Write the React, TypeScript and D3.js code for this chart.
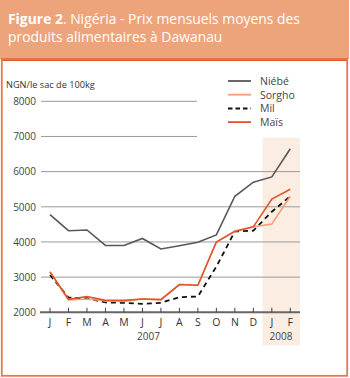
import React from "react";
import * as d3 from "d3";

const months = ["J", "F", "M", "A", "M", "J", "J", "A", "S", "O", "N", "D", "J", "F"];
const yearLabels = [
  { label: "2007", from: 0, to: 11 },
  { label: "2008", from: 12, to: 13 },
];
const yTicks = [2000, 3000, 4000, 5000, 6000, 7000, 8000];

const niebe = [4780, 4320, 4340, 3900, 3900, 4100, 3800, 3890, 3990, 4200, 5300, 5700, 5850, 6650];
const sorgho = [3150, 2350, 2380, 2320, 2310, 2380, 2360, 2790, 2770, 4000, 4310, 4430, 4510, 5300];
const mil = [3060, 2420, 2400, 2280, 2270, 2240, 2270, 2430, 2450, 3300, 4300, 4320, 4860, 5300];
const mais = [3150, 2370, 2450, 2340, 2340, 2380, 2360, 2790, 2770, 4000, 4300, 4430, 5220, 5500];

const series = [
  { name: "Niébé", values: niebe, color: "#58585a", dash: "", width: 1.6 },
  { name: "Sorgho", values: sorgho, color: "#f3a07a", dash: "", width: 1.6 },
  { name: "Mil", values: mil, color: "#111111", dash: "5,4", width: 1.8 },
  { name: "Maïs", values: mais, color: "#e0552b", dash: "", width: 1.6 },
];
const drawOrder = ["Niébé", "Mil", "Sorgho", "Maïs"];

export default function App() {
  const W = 350, H = 378;
  const x = d3.scaleLinear().domain([0, 13]).range([50, 290.3]);
  const y = d3.scaleLinear().domain([2000, 8000]).range([312.3, 101.3]);
  const line = d3.line<number>().x((_, i) => x(i)).y((d) => y(d));
  const font = "'Open Sans', 'Noto Sans', sans-serif";

  return (
    <svg width={W} height={H} style={{ position: "absolute", left: 0, top: 0 }} fontFamily={font}>
      <rect x={0} y={0} width={W} height={H} fill="#ffffff" />
      {/* header */}
      <rect x={0} y={0} width={349} height={59} fill="#eda47b" />
      <rect x={1} y={58} width={347} height={3} fill="#e05c2c" />
      {/* panel border */}
      <rect x={1.8} y={59} width={345.4} height={316.8} fill="none" stroke="#e8774c" strokeWidth={1.8} />
      <text x={8} y={24} fill="#ffffff" fontSize={13.9}>
        <tspan fontWeight="bold">Figure 2</tspan>. Nigéria - Prix mensuels moyens des
      </text>
      <text x={8} y={42} fill="#ffffff" fontSize={13.9}>produits alimentaires à Dawanau</text>

      {/* shaded 2008 */}
      <rect x={x(11.5)} y={137.7} width={300 - x(11.5)} height={345.7 - 137.7} fill="#fcede3" />

      {/* gridlines */}
      {yTicks.slice(1).map((t) => (
        <line key={t} x1={41} x2={t >= 7000 ? 197 : 300} y1={y(t)} y2={y(t)} stroke="#9a9a9a" strokeWidth={1} />
      ))}
      {/* y tick labels */}
      {yTicks.map((t) => (
        <text key={t} x={36} y={y(t) + 3.8} textAnchor="end" fontSize={10} fill="#444">{t}</text>
      ))}
      <text x={6} y={88} fontSize={9.2} fill="#333">NGN/le sac de 100kg</text>

      {/* x axis */}
      <line x1={40} x2={300} y1={y(2000)} y2={y(2000)} stroke="#666" strokeWidth={2} />
      {months.map((m, i) => (
        <g key={i}>
          <line x1={x(i)} x2={x(i)} y1={y(2000) - 4.5} y2={y(2000)} stroke="#444" strokeWidth={1} />
          <text x={x(i)} y={326} textAnchor="middle" fontSize={10.5} fill="#333">{m}</text>
        </g>
      ))}
      {yearLabels.map((yl) => (
        <text key={yl.label} x={yl.label === "2007" ? 148.5 : (x(yl.from) + x(yl.to)) / 2} y={339.5} textAnchor="middle" fontSize={10} fill="#444">{yl.label}</text>
      ))}

      {/* lines */}
      {drawOrder.map((n) => {
        const s = series.find((d) => d.name === n)!;
        return (
          <path key={n} d={line(s.values) || ""} fill="none" stroke={s.color} strokeWidth={s.width} strokeDasharray={s.dash || undefined} strokeLinejoin="miter" />
        );
      })}

      {/* legend */}
      {series.map((s, i) => {
        const ly = 81 + i * 13.7;
        return (
          <g key={s.name}>
            <line x1={228} x2={251} y1={ly} y2={ly} stroke={s.color} strokeWidth={s.width + 0.2} strokeDasharray={s.dash ? "4.5,3" : undefined} />
            <text x={260} y={ly + 4} fontSize={10.5} fill="#444">{s.name}</text>
          </g>
        );
      })}
    </svg>
  );
}
